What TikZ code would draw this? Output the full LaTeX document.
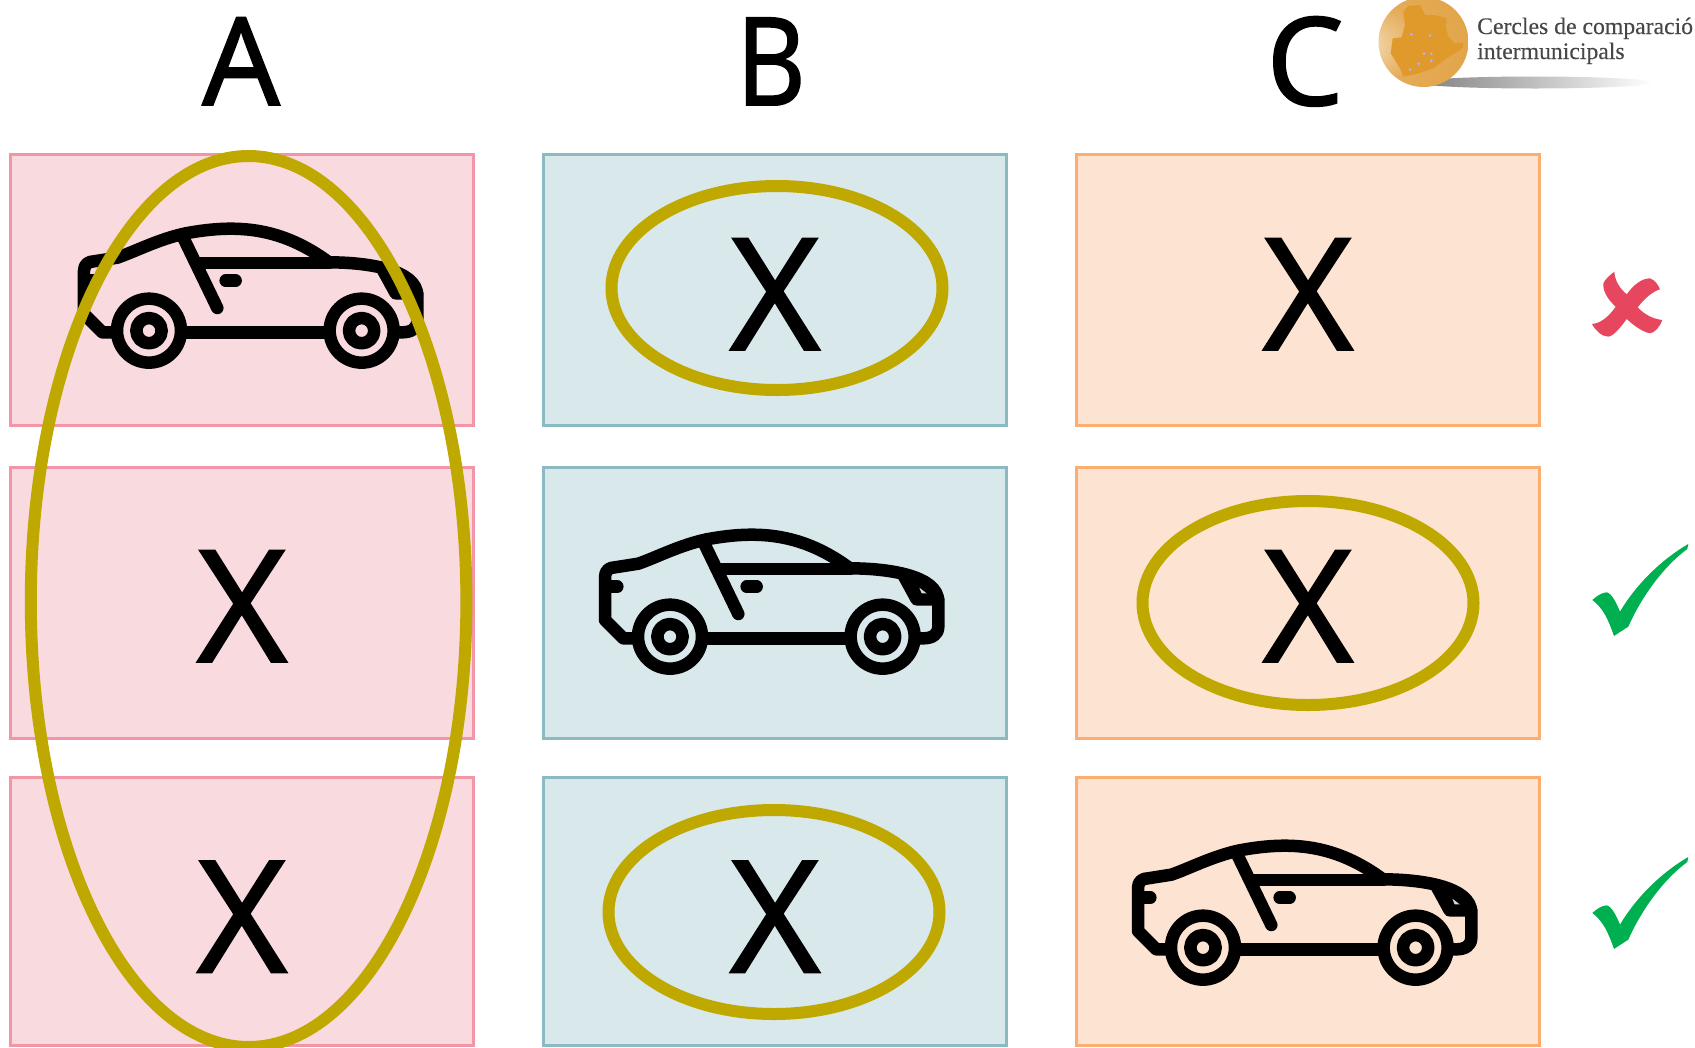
\documentclass[tikz,border=0pt]{standalone}
\usepackage{fontspec}
\usetikzlibrary{shapes.geometric}
\setmainfont{Open Sans}
\newfontfamily\heavyfont[FakeBold=1.6]{Open Sans}
\newfontfamily\logofont[FakeBold=0.3]{Liberation Serif}
\definecolor{pinkfill}{HTML}{F9DADF}
\definecolor{pinkline}{HTML}{F295A6}
\definecolor{tealfill}{HTML}{D8E8EB}
\definecolor{tealline}{HTML}{8DB9C2}
\definecolor{orangefill}{HTML}{FDE3D1}
\definecolor{orangeline}{HTML}{FBAE70}
\definecolor{olive}{HTML}{BFA800}
\definecolor{crosscol}{HTML}{E6475F}
\definecolor{checkcol}{HTML}{00B050}
\definecolor{mapcol}{HTML}{E09A2B}
\definecolor{globeA}{HTML}{F6E8D4}
\definecolor{globeB}{HTML}{EDC88E}
\definecolor{globeC}{HTML}{E5AB58}
\definecolor{globeD}{HTML}{DF9F3C}
\pgfdeclareradialshading{globe}{\pgfpoint{-36bp}{-2bp}}{color(0bp)=(globeA); color(9bp)=(globeB); color(20bp)=(globeC); color(50bp)=(globeD)}
\tikzset{
  cell/.style={draw,line width=3pt,minimum width=463pt,minimum height=271pt,inner sep=0pt},
  pinkcell/.style={cell,fill=pinkfill,draw=pinkline},
  tealcell/.style={cell,fill=tealfill,draw=tealline},
  orangecell/.style={cell,fill=orangefill,draw=orangeline},
  ring/.style={ellipse,draw=olive,line width=12pt,inner sep=0pt},
  smallring/.style={ring,minimum width=331pt,minimum height=204pt},
  heading/.style={anchor=base,inner sep=0pt,font=\heavyfont\fontsize{122}{122}\selectfont},
  cross/.style={anchor=base,inner sep=0pt,font=\heavyfont\fontsize{155}{155}\selectfont},
  logotext/.style={anchor=base west,inner sep=0pt,text=black!72,font=\logofont\fontsize{23.7}{24}\selectfont},
  car/.pic={
    \begin{scope}[line width=12.5pt,line cap=round,line join=round,draw=black]
      \draw (225,385) -- (190,385) -- (135,330) -- (135,200)
        .. controls (135,180) and (150,172) .. (165,172)
        -- (235,161) .. controls (290,142) and (360,105) .. (440,88)
        .. controls (600,58) and (730,72) .. (870,175)
        .. controls (980,175) and (1135,195) .. (1135,275)
        -- (1135,350) .. controls (1135,375) and (1115,385) .. (1090,385) -- (1075,385);
      \draw (440,385) -- (860,385);
      \draw (430,95) -- (535,312);
      \draw (480,177) -- (870,177);
      \draw (560,230) -- (590,230);
      \draw (150,230) -- (172,230);
      \draw (1030,195) -- (1070,268) -- (1135,268);
      \fill[line width=0pt] (1020,185) -- (1135,240) -- (1135,280) -- (1065,280) -- cycle;
      \fill[white!85!black] (1078,233) -- (1100,250) -- (1085,250) -- cycle;
      \foreach \cx in {330,968} {
        \draw (\cx,380) circle[radius=96];
        \draw (\cx,380) circle[radius=38];
      }
    \end{scope}
  },
  checkmark/.pic={
    \fill[checkcol] (67,1050) .. controls (80,1038) and (95,1028) .. (110,1027)
      .. controls (125,1030) and (140,1060) .. (150,1085)
      .. controls (200,1000) and (280,925) .. (355,882)
      -- (352,897) .. controls (280,950) and (215,1040) .. (175,1130)
      -- (132,1158) .. controls (115,1110) and (100,1075) .. (67,1050) -- cycle;
  }
}
\begin{document}
\begin{tikzpicture}[x=1pt,y=-1pt]
\useasboundingbox (0,0) rectangle (1695,1047);
% cells
\node[pinkcell]   (a1) at (241.6,289.5) {};
\node[pinkcell]   (a2) at (241.6,603) {};
\node[pinkcell,minimum height=268pt]   (a3) at (241.6,911.5) {};
\node[tealcell]   (b1) at (774.5,289.5) {};
\node[tealcell]   (b2) at (774.5,603) {};
\node[tealcell,minimum height=268pt]   (b3) at (774.5,911.5) {};
\node[orangecell] (c1) at (1307.5,289.5) {};
\node[orangecell] (c2) at (1307.5,603) {};
\node[orangecell,minimum height=268pt] (c3) at (1307.5,911.5) {};
% headings
\node[heading] (ha) at (241,105) {A};
\node[heading,xscale=0.88] (hb) at (771,105) {B};
\node[heading] (hc) at (1305,105) {C};
% X marks
\node[cross] (xa2) at (242,661.5) {X};
\node[cross] (xa3) at (242,972) {X};
\node[cross] (xb1) at (775,349.5) {X};
\node[cross] (xb3) at (775,972) {X};
\node[cross] (xc1) at (1308,349.5) {X};
\node[cross] (xc2) at (1308,661.5) {X};
% cars
\pic[scale=0.3333] (cara) at (39,204) {car};
\pic[scale=0.3333] (carb) at (560,510) {car};
\pic[scale=0.3333] (carc) at (1093,821) {car};
% rings
\node[ring,minimum width=435.6pt,minimum height=891pt] (big) at (248.6,601.5) {};
\node[smallring] (rb1) at (777,288) {};
\node[smallring] (rc2) at (1308,603) {};
\node[smallring] (rb3) at (774,912) {};
% logo
\shade[left color=black!50,right color=white] (1535,82.5) ellipse[x radius=118,y radius=6];
\shade[shading=globe] (1423.5,42) circle[radius=45];
\begin{scope}[shift={(1370,0)},scale=0.3333]
  \fill[mapcol] (100,35) -- (115,18) -- (150,15) -- (165,45) -- (195,45) -- (230,55) -- (228,85) -- (235,110) -- (255,130)
    -- (280,128) -- (278,145) -- (230,175) -- (190,205) -- (140,222) -- (100,230) -- (90,205) -- (62,160) -- (68,115)
    -- (95,112) -- (105,75) -- cycle;
  \foreach \dx/\dy in {124/103,180/107,162/161,184/161,184/182,146/191,120/209}
    \fill[black!15!blue!30!white] (\dx,\dy) circle[radius=4.5];
\end{scope}
\node[logotext] (l1) at (1477,34) {Cercles de comparació};
\node[logotext] (l2) at (1477,59) {intermunicipals};
% cross mark
\begin{scope}[shift={(1570,250)},scale=0.3333]
  \fill[crosscol] (133,65) .. controls (135,95) and (150,115) .. (170,133)
    .. controls (190,105) and (215,85) .. (240,85)
    .. controls (255,90) and (265,105) .. (270,118)
    .. controls (245,125) and (220,150) .. (203,172)
    .. controls (225,195) and (250,207) .. (277,210)
    .. controls (270,230) and (255,248) .. (240,250)
    .. controls (215,245) and (190,225) .. (170,207)
    .. controls (150,235) and (130,258) .. (115,260)
    .. controls (95,260) and (75,240) .. (66,222)
    .. controls (95,220) and (120,195) .. (137,170)
    .. controls (115,150) and (98,125) .. (100,100)
    .. controls (105,88) and (120,75) .. (133,65) -- cycle;
\end{scope}
\pic[scale=0.3333] (tick2) at (1570,250) {checkmark};
\pic[scale=0.3333] (tick3) at (1570,563) {checkmark};
\end{tikzpicture}
\end{document}
